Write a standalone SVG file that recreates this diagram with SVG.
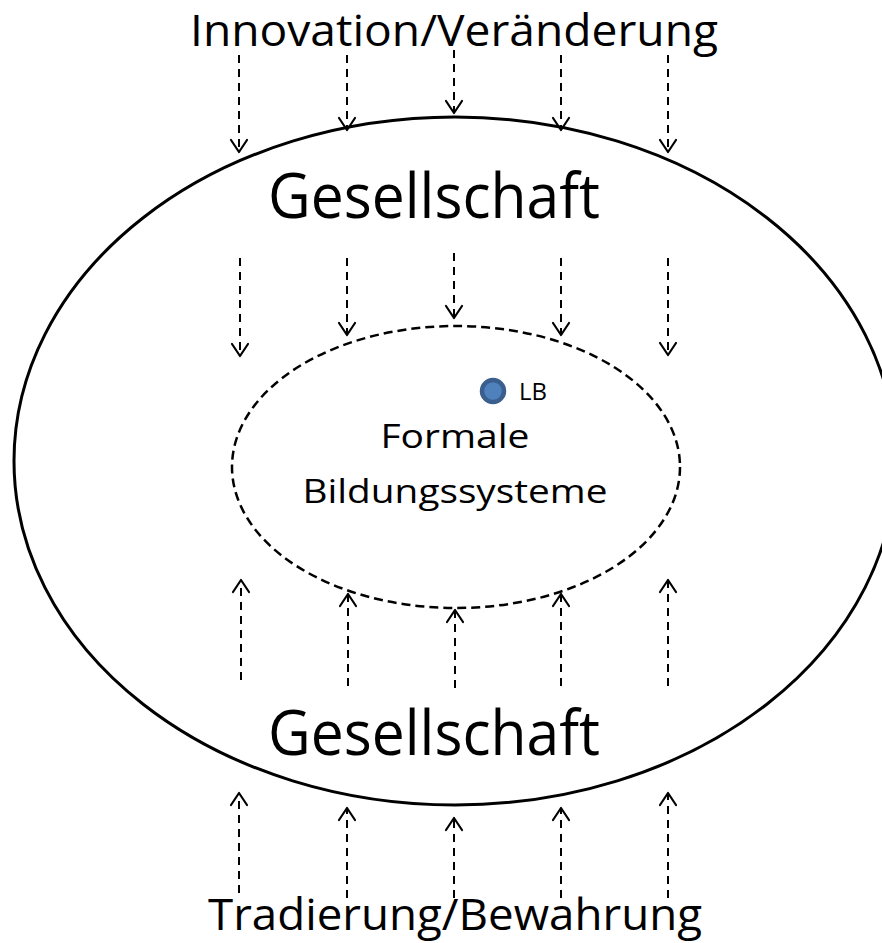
<svg xmlns="http://www.w3.org/2000/svg" width="882" height="943" viewBox="0 0 882 943">
<style>
.t{font-family:"Open Sans","Noto Sans","Liberation Sans",sans-serif;fill:#000}
.a{stroke:#000;stroke-width:2;stroke-dasharray:8,6;fill:none;marker-end:url(#ah)}
</style>
<defs>
<marker id="ah" markerWidth="24" markerHeight="24" refX="14" refY="10" orient="auto" markerUnits="userSpaceOnUse" overflow="visible">
<polyline points="2,2 14,10 2,18" fill="none" stroke="#000" stroke-width="2.2" stroke-linecap="round" stroke-linejoin="round"/>
</marker>
</defs>
<rect width="882" height="943" fill="#fff"/>
<g id="outer">
<ellipse cx="455" cy="461" rx="441" ry="344" fill="none" stroke="#000" stroke-width="3"/>
</g>
<g id="inner">
<ellipse cx="456" cy="467" rx="224" ry="141" fill="none" stroke="#000" stroke-width="2.5" stroke-dasharray="9,5"/>
</g>
<g id="labels">
<text class="t" x="454" y="46" font-size="44" text-anchor="middle" textLength="528" lengthAdjust="spacingAndGlyphs">Innovation/Veränderung</text>
<text class="t" x="434" y="218" font-size="63" text-anchor="middle" textLength="332" lengthAdjust="spacingAndGlyphs">Gesellschaft</text>
<text class="t" x="434" y="755" font-size="63" text-anchor="middle" textLength="332" lengthAdjust="spacingAndGlyphs">Gesellschaft</text>
<text class="t" x="455" y="930" font-size="44" text-anchor="middle" textLength="494" lengthAdjust="spacingAndGlyphs">Tradierung/Bewahrung</text>
<text class="t" x="455" y="448" font-size="32" text-anchor="middle" textLength="149" lengthAdjust="spacingAndGlyphs">Formale</text>
<text class="t" x="455" y="503" font-size="32" text-anchor="middle" textLength="305" lengthAdjust="spacingAndGlyphs">Bildungssysteme</text>
</g>
<g id="LB">
<circle cx="493" cy="391" r="11" fill="#4f81bd" stroke="#3a5f8f" stroke-width="4.5"/>
<text class="t" x="519" y="400" font-size="24" textLength="28" lengthAdjust="spacingAndGlyphs">LB</text>
</g>
<g id="connectors">
<line class="a" x1="239" y1="55" x2="239" y2="152"/>
<line class="a" x1="347" y1="55" x2="347" y2="130"/>
<line class="a" x1="454" y1="50" x2="454" y2="113"/>
<line class="a" x1="561" y1="55" x2="561" y2="130"/>
<line class="a" x1="668" y1="55" x2="668" y2="152"/>
<line class="a" x1="240" y1="258" x2="240" y2="356"/>
<line class="a" x1="347" y1="258" x2="347" y2="335"/>
<line class="a" x1="454" y1="253" x2="454" y2="318"/>
<line class="a" x1="561" y1="258" x2="561" y2="335"/>
<line class="a" x1="668" y1="258" x2="668" y2="355"/>
<line class="a" x1="241" y1="680" x2="241" y2="580"/>
<line class="a" x1="348" y1="686" x2="348" y2="594"/>
<line class="a" x1="455" y1="688" x2="455" y2="610"/>
<line class="a" x1="561" y1="686" x2="561" y2="594"/>
<line class="a" x1="668" y1="686" x2="668" y2="580"/>
<line class="a" x1="239" y1="893" x2="239" y2="793"/>
<line class="a" x1="347" y1="898" x2="347" y2="808"/>
<line class="a" x1="454" y1="898" x2="454" y2="818"/>
<line class="a" x1="561" y1="898" x2="561" y2="808"/>
<line class="a" x1="668" y1="898" x2="668" y2="793"/>
</g>
</svg>
